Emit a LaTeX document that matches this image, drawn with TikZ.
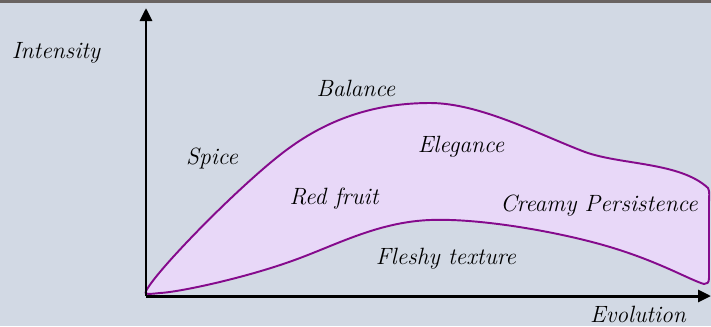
\documentclass[tikz,border=0pt]{standalone}
\usepackage{tikz}
\usetikzlibrary{arrows.meta}
\definecolor{WineBack}{HTML}{D2D9E4}
\definecolor{WineFrame}{HTML}{6A6461}
\definecolor{WinePurple}{HTML}{850A8C}
\definecolor{WineLilac}{HTML}{E8D8F8}
\tikzset{
  wlabel/.style={font=\itshape\fontsize{13.4}{15}\selectfont,inner sep=0pt},
  waxis/.style={-{Triangle[length=2.6mm,width=2.4mm]},line width=1.7pt,black},
  wprofile/.style={draw=WinePurple,fill=WineLilac,line width=1.1pt,line join=round}
}

\begin{document}
\begin{tikzpicture}[x=0.02cm,y=-0.02cm]
  \fill[WineBack] (0,0) rectangle (711,326);
  \useasboundingbox (0,0) rectangle (711,326);
  \fill[WineFrame] (0,0) rectangle (711,2.5);

  % tasting profile
  \draw[wprofile] (146,291) .. controls (158,268) and (250,175) .. (292,146)
    .. controls (330,119) and (375,103) .. (430,103)
    .. controls (480,103) and (540,135) .. (585,152)
    .. controls (621,165) and (680,162) .. (708,188)
    .. controls (710,192) and (709,196) .. (709,202)
    -- (709,278) .. controls (709,283) and (707,284) .. (704,284)
    .. controls (690,280) and (660,262) .. (610,247)
    .. controls (560,232) and (480,218) .. (430,220)
    .. controls (380,222) and (340,243) .. (300,258)
    .. controls (250,277) and (180,292) .. (160,293)
    .. controls (150,294) and (143,295) .. cycle;

  \coordinate (origin) at (146,296);
  \coordinate (ytop) at (146,8);
  \coordinate (xend) at (711,296);
  \draw[waxis] (origin) -- (ytop);
  \draw[waxis] (origin) -- (xend);

  \node[wlabel] (intensity) at (56,53) {Intensity};
  \node[wlabel] (evolution) at (638,314) {Evolution};
  \node[wlabel] (balance) at (356,88) {Balance};
  \node[wlabel] (spice) at (212,158) {Spice};
  \node[wlabel] (elegance) at (461,147) {Elegance};
  \node[wlabel] (redfruit) at (334,199) {Red fruit};
  \node[wlabel] (creamy) at (599,206) {Creamy Persistence};
  \node[wlabel] (fleshy) at (446,259) {Fleshy texture};
\end{tikzpicture}
\end{document}
